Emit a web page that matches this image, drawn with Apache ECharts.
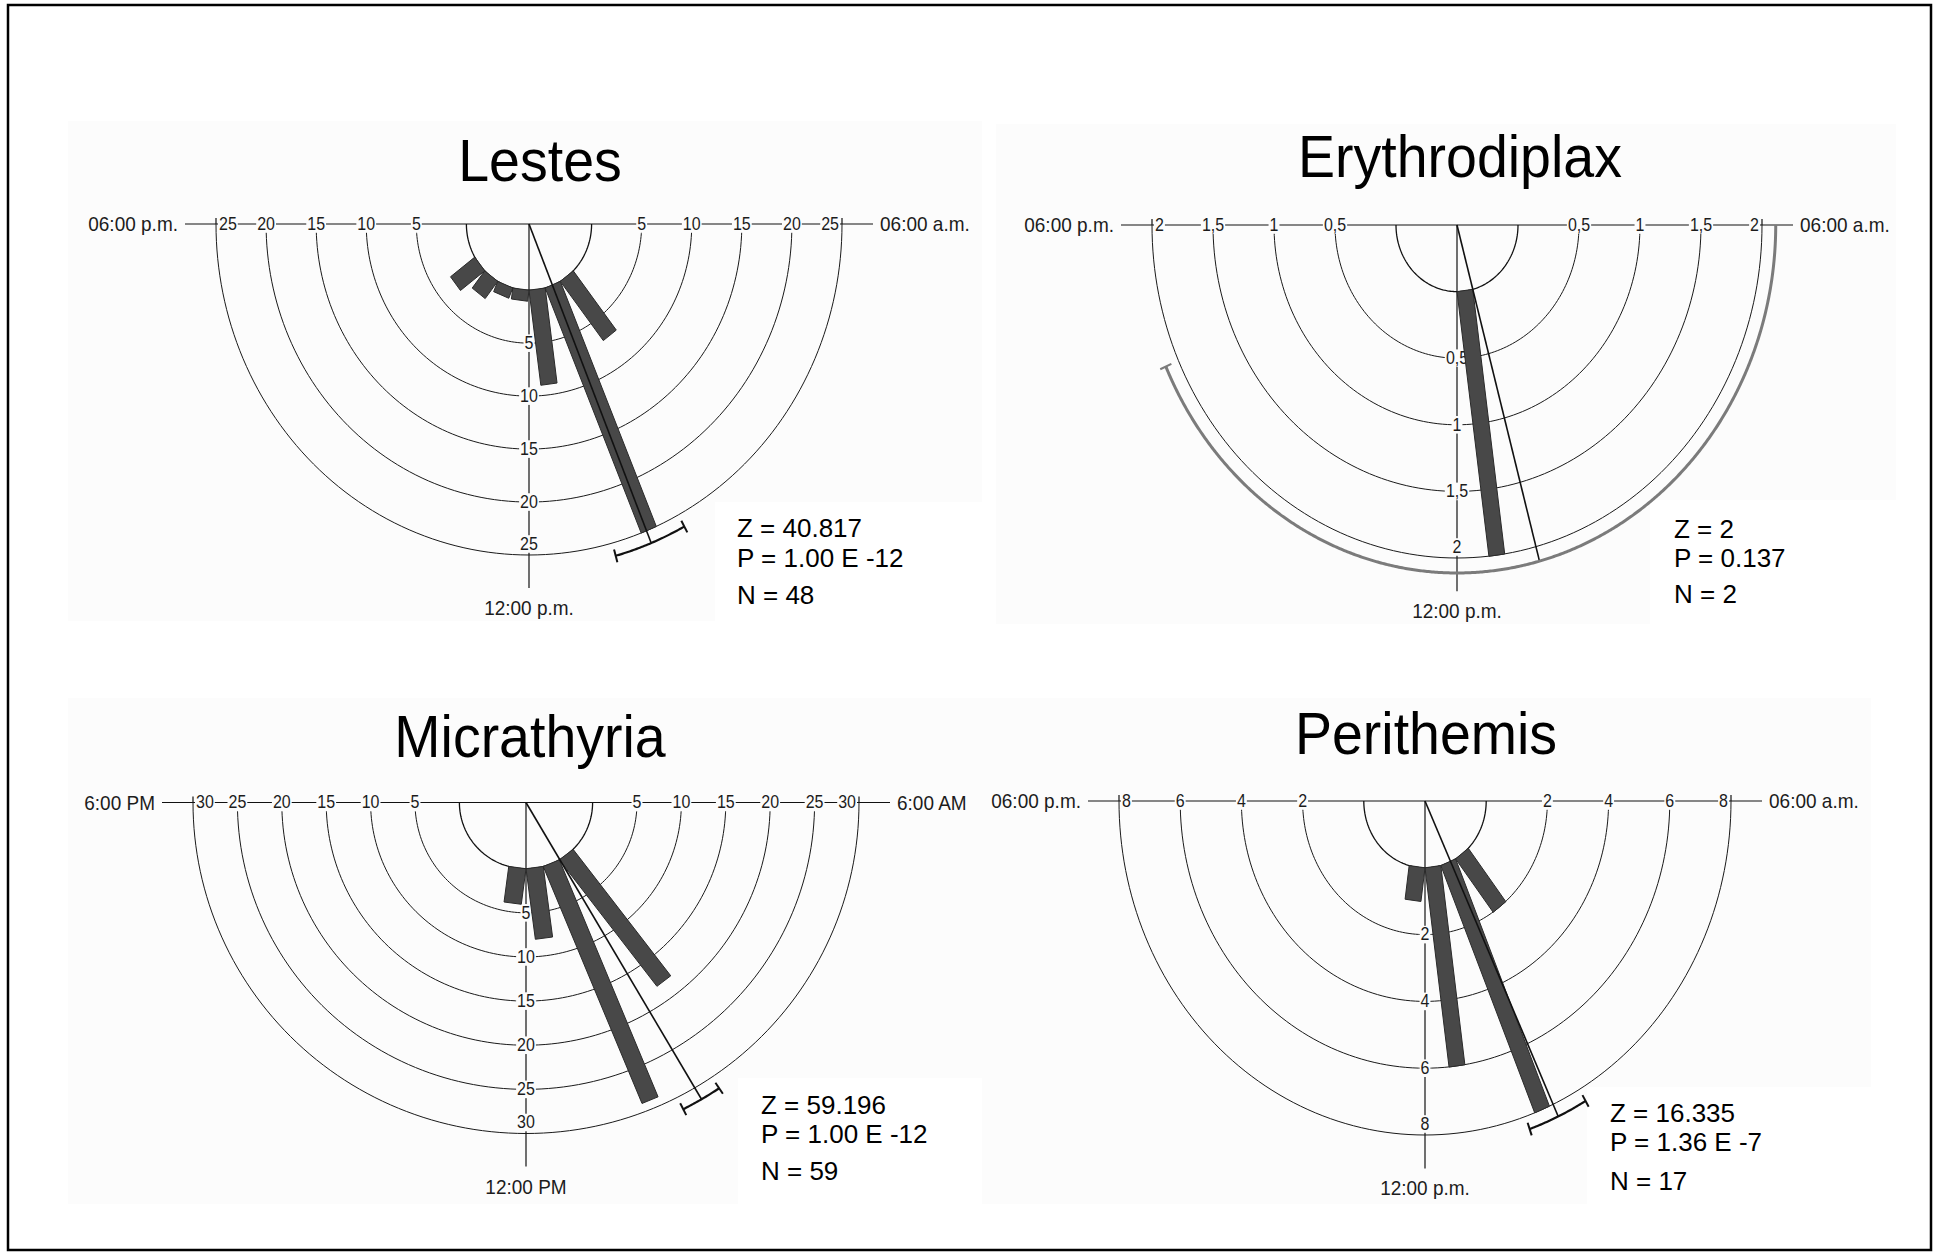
<!DOCTYPE html>
<html>
<head>
<meta charset="utf-8">
<script src="https://cdn.jsdelivr.net/npm/echarts@6/dist/echarts.min.js"></script>
<style>
  html, body { margin: 0; padding: 0; background: #fff; }
  #chart { width: 1937px; height: 1254px; }
</style>
</head>
<body>
<div id="chart"></div>
<script>
// ---- Hourly activity: bin start hour and number of records per 1-hour bin ----
const lestesBins = [9, 10, 11, 12, 13, 14, 15];
const lestesCounts = [7, 25, 9, 1, 1, 2, 3];
const erythroBins = [11];
const erythroCounts = [2];
const micraBins = [9, 10, 11, 12];
const micraCounts = [18, 29, 8, 4];
const periBins = [9, 10, 11, 12];
const periCounts = [2, 8, 6, 1];

// ---- Radial scale rings and their labels ----
const lestesTicks = [5, 10, 15, 20, 25];
const lestesTickLabels = ['5', '10', '15', '20', '25'];
const erythroTicks = [0.5, 1, 1.5, 2];
const erythroTickLabels = ['0,5', '1', '1,5', '2'];
const micraTicks = [5, 10, 15, 20, 25, 30];
const micraTickLabels = ['5', '10', '15', '20', '25', '30'];
const periTicks = [2, 4, 6, 8];
const periTickLabels = ['2', '4', '6', '8'];

// ---- Mean vector (hour of day) with lower / upper 95% confidence limits ----
const lestesMean = [10.53, 10.10, 10.97];
const erythroMean = [11.0, 5.6, 16.4];
const micraMean = [9.97, 9.74, 10.20];
const periMean = [10.35, 9.98, 10.72];

// ---- Rayleigh test summaries ----
const lestesStats = ['Z = 40.817', 'P = 1.00 E -12', 'N = 48'];
const erythroStats = ['Z = 2', 'P = 0.137', 'N = 2'];
const micraStats = ['Z = 59.196', 'P = 1.00 E -12', 'N = 59'];
const periStats = ['Z = 16.335', 'P = 1.36 E -7', 'N = 17'];

// ---- Dial labels (left, right, bottom) ----
const lestesTime = ['06:00 p.m.', '06:00 a.m.', '12:00 p.m.'];
const erythroTime = ['06:00 p.m.', '06:00 a.m.', '12:00 p.m.'];
const micraTime = ['6:00 PM', '6:00 AM', '12:00 PM'];
const periTime = ['06:00 p.m.', '06:00 a.m.', '12:00 p.m.'];

const titles = ['Lestes', 'Erythrodiplax', 'Micrathyria', 'Perithemis'];

// ---- Page layout of the four dials (pixels) ----
const layouts = [
  { cx: 529,  cy: 224,   rx: 313, ry: 331, titleX: 540,  titleY: 160, statX: 737,  statY: [528, 557.5, 595],
    bg: [68, 121, 914, 500],  box: [715, 502, 267, 119],  ciColor: '#111', ciWidth: 2.2, ciR: 1.04 },
  { cx: 1457, cy: 225,   rx: 305, ry: 333, titleX: 1460, titleY: 156, statX: 1674, statY: [529, 558, 594],
    bg: [996, 124, 900, 500], box: [1650, 500, 246, 124], ciColor: '#7b7b7b', ciWidth: 3, ciR: 1.045 },
  { cx: 526,  cy: 802.5, rx: 333, ry: 331, titleX: 530,  titleY: 736, statX: 761,  statY: [1105, 1134, 1171],
    bg: [68, 698, 914, 506],  box: [738, 1078, 244, 126], ciColor: '#111', ciWidth: 2.2, ciR: 1.04 },
  { cx: 1425, cy: 801,   rx: 306, ry: 334, titleX: 1426, titleY: 733, statX: 1610, statY: [1113, 1142, 1181],
    bg: [976, 698, 895, 506], box: [1587, 1087, 284, 117], ciColor: '#111', ciWidth: 2.2, ciR: 1.04 }
];

const panels = [
  { bins: lestesBins,  counts: lestesCounts,  ticks: lestesTicks,  tickLabels: lestesTickLabels,  mean: lestesMean,  stats: lestesStats,  time: lestesTime },
  { bins: erythroBins, counts: erythroCounts, ticks: erythroTicks, tickLabels: erythroTickLabels, mean: erythroMean, stats: erythroStats, time: erythroTime },
  { bins: micraBins,   counts: micraCounts,   ticks: micraTicks,   tickLabels: micraTickLabels,   mean: micraMean,   stats: micraStats,   time: micraTime },
  { bins: periBins,    counts: periCounts,    ticks: periTicks,    tickLabels: periTickLabels,    mean: periMean,    stats: periStats,    time: periTime }
].map((p, i) => Object.assign({}, p, layouts[i], { title: titles[i], vmax: p.ticks[p.ticks.length - 1] }));

const FONT = 'Liberation Sans';
const PANEL_BG = '#fcfcfc';
const HOUR = Math.PI / 12;          // one hour on a 24 h dial, in radians
const HOLE = 0.2;                   // inner hole radius (fraction of outer ring)

// dial position (normalised, y grows downward) for an hour and radius
function pt(hour, r) {
  const a = hour * HOUR;
  return [r * Math.sin(a), -r * Math.cos(a)];
}
function radius(v, vmax) { return HOLE + (1 - HOLE) * v / vmax; }

function seg(x1, y1, x2, y2, w, color) {
  return { type: 'line', shape: { x1, y1, x2, y2 }, style: { stroke: color || '#111', lineWidth: w } };
}
function txt(text, x, y, align, size, bg) {
  const style = { text, fontSize: size, fontFamily: FONT, fill: '#1c1c1c', align, verticalAlign: 'middle' };
  if (bg) { style.backgroundColor = bg; style.padding = [0, 1]; }
  return { type: 'text', x, y, scaleY: 1.1, style };
}
function arcPoints(api, r, h0, h1, step) {
  const pts = [];
  const n = Math.max(1, Math.round((h1 - h0) / step));
  for (let k = 0; k <= n; k++) pts.push(api.coord(pt(h0 + (h1 - h0) * k / n, r)));
  return pts;
}

// axes, hole and dial labels
function frameItem(p) {
  return function (params, api) {
    const O = api.coord([0, 0]), L = api.coord([-1, 0]), R = api.coord([1, 0]);
    const B = api.coord([0, 1]), BB = api.coord([0, 1.1]);
    return {
      type: 'group',
      children: [
        seg(L[0] - 31, O[1], R[0] + 31, O[1], 1.2),
        seg(O[0], O[1], O[0], BB[1], 1.2),
        { type: 'polyline', shape: { points: arcPoints(api, HOLE, 6, 18, 0.1) }, style: { stroke: '#111', lineWidth: 1.3, fill: null } },
        seg(L[0], O[1] - 6, L[0], O[1], 1.2),
        seg(R[0], O[1] - 6, R[0], O[1], 1.2),
        txt(p.time[0], L[0] - 38, O[1], 'right', 19, null),
        txt(p.time[1], R[0] + 38, O[1], 'left', 19, null),
        txt(p.time[2], O[0], B[1] + 53, 'center', 19, null)
      ]
    };
  };
}

// concentric scale rings with their labels on both arms and the 12:00 spoke
function ringItem(p) {
  return function (params, api) {
    const i = params.dataIndex;
    const last = i === p.ticks.length - 1;
    const r = radius(api.value(0), p.vmax);
    const label = p.tickLabels[i];
    const L = api.coord([-r, 0]), R = api.coord([r, 0]), B = api.coord([0, r]);
    return {
      type: 'group',
      children: [
        { type: 'polyline', shape: { points: arcPoints(api, r, 6, 18, 0.1) }, style: { stroke: '#1a1a1a', lineWidth: 1, fill: null } },
        txt(label, last ? L[0] + 2 : L[0], L[1], last ? 'left' : 'center', 16, PANEL_BG),
        txt(label, last ? R[0] - 2 : R[0], R[1], last ? 'right' : 'center', 16, PANEL_BG),
        txt(label, B[0], last ? B[1] - 11 : B[1], 'center', 16, PANEL_BG)
      ]
    };
  };
}

// one rectangular bar per hourly bin, rising from the hole edge
function barItem(p) {
  return function (params, api) {
    const a = (api.value(0) + 0.5) * HOUR;
    const u = [Math.sin(a), -Math.cos(a)], q = [Math.cos(a), Math.sin(a)];
    const hw = HOLE * Math.sin(HOUR / 2);
    const r0 = HOLE * Math.cos(HOUR / 2), r1 = radius(api.value(1), p.vmax);
    const c = (r, s) => api.coord([u[0] * r + q[0] * hw * s, u[1] * r + q[1] * hw * s]);
    return {
      type: 'polygon',
      shape: { points: [c(r0, -1), c(r0, 1), c(r1, 1), c(r1, -1)] },
      style: { fill: '#484848', stroke: '#2a2a2a', lineWidth: 1 }
    };
  };
}

// mean vector and its confidence arc
function meanItem(p) {
  return function (params, api) {
    const m = api.value(0), lo = api.value(1), hi = api.value(2);
    const O = api.coord([0, 0]), E = api.coord(pt(m, p.ciR));
    const h0 = Math.max(lo, 6), h1 = Math.min(hi, 18);
    const kids = [
      seg(O[0], O[1], E[0], E[1], 1.6),
      { type: 'polyline', shape: { points: arcPoints(api, p.ciR, h0, h1, 0.02) }, style: { stroke: p.ciColor, lineWidth: p.ciWidth, fill: null } }
    ];
    [lo, hi].forEach(h => {
      if (h >= 6 && h <= 18) {
        const a = api.coord(pt(h, p.ciR - 0.02)), b = api.coord(pt(h, p.ciR + 0.02));
        kids.push(seg(a[0], a[1], b[0], b[1], 2, p.ciColor));
      }
    });
    return { type: 'group', children: kids };
  };
}

const option = {
  animation: false,
  backgroundColor: '#ffffff',
  grid: [], xAxis: [], yAxis: [], series: [], graphic: []
};

option.graphic.push({
  type: 'rect', z: 5, shape: { x: 8, y: 5, width: 1923, height: 1245 },
  style: { fill: null, stroke: '#000', lineWidth: 2.5 }
});

panels.forEach((p, i) => {
  option.grid.push({ left: p.cx - 1.5 * p.rx, top: p.cy - 0.2 * p.ry, width: 3 * p.rx, height: 1.5 * p.ry, show: false });
  option.xAxis.push({ type: 'value', gridIndex: i, min: -1.5, max: 1.5, show: false, axisLabel: { show: false } });
  option.yAxis.push({ type: 'value', gridIndex: i, min: -0.2, max: 1.3, inverse: true, show: false, axisLabel: { show: false } });

  const common = { type: 'custom', coordinateSystem: 'cartesian2d', xAxisIndex: i, yAxisIndex: i, silent: true, animation: false, clip: false };
  option.series.push(Object.assign({}, common, { name: p.title + ' axes', renderItem: frameItem(p), data: [[0, 0]] }));
  option.series.push(Object.assign({}, common, { name: p.title + ' rings', renderItem: ringItem(p), data: p.ticks.map(v => [v, 0]) }));
  option.series.push(Object.assign({}, common, { name: p.title, renderItem: barItem(p), data: p.bins.map((b, k) => [b, p.counts[k]]) }));
  option.series.push(Object.assign({}, common, { name: p.title + ' mean', renderItem: meanItem(p), data: [p.mean] }));

  option.graphic.push({ type: 'rect', z: 0, shape: { x: p.bg[0], y: p.bg[1], width: p.bg[2], height: p.bg[3] }, style: { fill: PANEL_BG } });
  option.graphic.push({ type: 'rect', z: 1, shape: { x: p.box[0], y: p.box[1], width: p.box[2], height: p.box[3] }, style: { fill: '#ffffff' } });
  option.graphic.push({
    type: 'text', z: 2, x: p.titleX, y: p.titleY, scaleY: 1.08,
    style: { text: p.title, fontSize: 55.5, fontFamily: FONT, fill: '#000', align: 'center', verticalAlign: 'middle' }
  });
  p.stats.forEach((s, k) => {
    option.graphic.push({
      type: 'text', z: 2, x: p.statX, y: p.statY[k],
      style: { text: s, fontSize: 26, fontFamily: FONT, fill: '#000', align: 'left', verticalAlign: 'middle' }
    });
  });
});

const chart = echarts.init(document.getElementById('chart'), null, { renderer: 'svg', width: 1937, height: 1254 });
chart.setOption(option);
</script>
</body>
</html>
